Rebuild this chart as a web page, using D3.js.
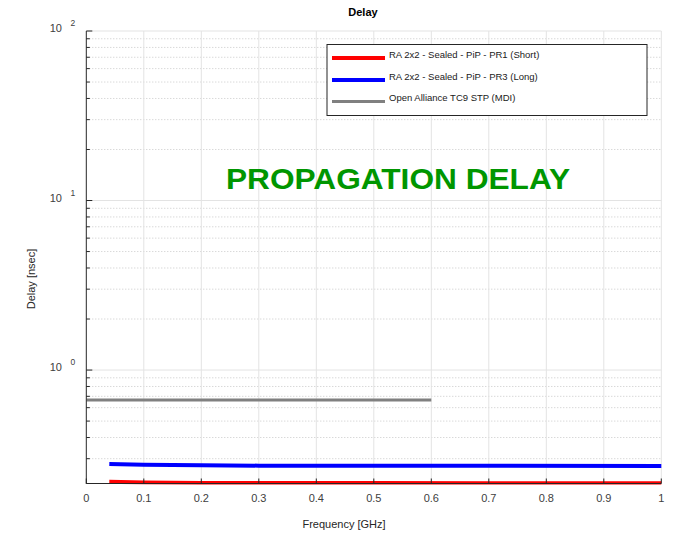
<!DOCTYPE html>
<html><head><meta charset="utf-8">
<script src="https://cdn.jsdelivr.net/npm/d3@7"></script>
<style>
html,body{margin:0;padding:0;background:#fff;}
svg{display:block;font-family:"Liberation Sans",Arial,Helvetica,sans-serif;}
</style></head>
<body>
<svg id="chart" width="674" height="533"></svg>
<script>
// ---- data ----
const seriesNames = ["RA 2x2 - Sealed - PiP - PR1 (Short)", "RA 2x2 - Sealed - PiP - PR3 (Long)", "Open Alliance TC9 STP (MDI)"];
const seriesColors = ["#ff0000", "#0000ff", "#808080"];
const freqConn = [0.04, 0.1, 0.2, 0.3, 0.5, 0.7, 1.0];
const delayShort = [0.219, 0.217, 0.216, 0.2155, 0.2155, 0.215, 0.215];
const delayLong = [0.279, 0.276, 0.274, 0.273, 0.273, 0.2725, 0.272];
const freqTC9 = [0, 0.6];
const delayTC9 = [0.665, 0.665];
const xTicks = [0, 0.1, 0.2, 0.3, 0.4, 0.5, 0.6, 0.7, 0.8, 0.9, 1];
const yMajor = [1, 10, 100];
const yExp = ["0", "1", "2"];
const yMinor = [0.3,0.4,0.5,0.6,0.7,0.8,0.9,2,3,4,5,6,7,8,9,20,30,40,50,60,70,80,90];
const titleText = "Delay";
const xLabel = "Frequency [GHz]";
const yLabel = "Delay [nsec]";
const annotation = "PROPAGATION DELAY";

// ---- layout ----
const L = 86.3, R = 661.3, T = 31, B = 483.5;
const svg = d3.select("#chart");
const x = d3.scaleLinear().domain([0, 1]).range([L, R]);
const y = d3.scaleLog().domain([0.2142, 100]).range([B, T]);

const g = svg.append("g");
// minor grid (dotted)
g.selectAll(".mg").data(yMinor).join("line")
  .attr("x1", L).attr("x2", R).attr("y1", d => y(d)).attr("y2", d => y(d))
  .attr("stroke", "#c8c8c8").attr("stroke-width", 1).attr("stroke-dasharray", "1,2");
// major grid
g.selectAll(".gx").data(xTicks.slice(1)).join("line")
  .attr("x1", d => x(d)).attr("x2", d => x(d)).attr("y1", T).attr("y2", B)
  .attr("stroke", "#e3e3e3").attr("stroke-width", 1);
g.selectAll(".gy").data(yMajor).join("line")
  .attr("x1", L).attr("x2", R).attr("y1", d => y(d)).attr("y2", d => y(d))
  .attr("stroke", "#e3e3e3").attr("stroke-width", 1);

// clip
svg.append("clipPath").attr("id", "clip").append("rect")
  .attr("x", L).attr("y", T).attr("width", R - L + 1).attr("height", B - T + 1);

const line = d3.line().x(d => x(d[0])).y(d => y(d[1]));
const lines = [
  {f: freqConn, v: delayShort, c: seriesColors[0], w: 4},
  {f: freqConn, v: delayLong, c: seriesColors[1], w: 4},
  {f: freqTC9, v: delayTC9, c: seriesColors[2], w: 3}
];
const pl = svg.append("g").attr("clip-path", "url(#clip)");
lines.forEach(s => {
  pl.append("path").datum(s.f.map((f, i) => [f, s.v[i]]))
    .attr("d", line).attr("fill", "none").attr("stroke", s.c).attr("stroke-width", s.w);
});

// axes
const ax = svg.append("g").attr("stroke", "#262626").attr("stroke-width", 1);
ax.append("line").attr("x1", L).attr("x2", L).attr("y1", T).attr("y2", B + 0.5);
ax.append("line").attr("x1", L).attr("x2", R).attr("y1", B).attr("y2", B);
ax.selectAll(".xt").data(xTicks).join("line")
  .attr("x1", d => x(d)).attr("x2", d => x(d)).attr("y1", B).attr("y2", B - 5);
ax.selectAll(".ymaj").data(yMajor).join("line")
  .attr("x1", L).attr("x2", L + 6).attr("y1", d => y(d)).attr("y2", d => y(d));
ax.selectAll(".ymin").data(yMinor).join("line")
  .attr("x1", L).attr("x2", L + 3.5).attr("y1", d => y(d)).attr("y2", d => y(d));

// tick labels
svg.selectAll(".xl").data(xTicks).join("text")
  .attr("x", d => x(d)).attr("y", 502).attr("text-anchor", "middle")
  .attr("font-size", 11).attr("fill", "#404040").text(d => d3.format("")(d));
yMajor.forEach((v, i) => {
  svg.append("text").attr("x", 62).attr("y", y(v) + 1).attr("text-anchor", "end")
    .attr("font-size", 11).attr("fill", "#404040").text("10");
  svg.append("text").attr("x", 70.5).attr("y", y(v) - 5).attr("text-anchor", "start")
    .attr("font-size", 8.5).attr("fill", "#404040").text(yExp[i]);
});

// labels
svg.append("text").attr("x", 363).attr("y", 16).attr("text-anchor", "middle")
  .attr("font-size", 11).attr("font-weight", "bold").attr("fill", "#000").text(titleText);
svg.append("text").attr("x", 344).attr("y", 528).attr("text-anchor", "middle")
  .attr("font-size", 11).attr("fill", "#262626").text(xLabel);
svg.append("text").attr("transform", "translate(35,279) rotate(-90)").attr("text-anchor", "middle")
  .attr("font-size", 11).attr("fill", "#262626").text(yLabel);

// annotation
svg.append("text").attr("x", 398).attr("y", 188.5).attr("text-anchor", "middle")
  .attr("font-size", 30).attr("font-weight", "bold").attr("fill", "#009600")
  .attr("textLength", 344).attr("lengthAdjust", "spacingAndGlyphs").text(annotation);

// legend
const lg = svg.append("g");
lg.append("rect").attr("x", 327).attr("y", 44.5).attr("width", 320).attr("height", 71)
  .attr("fill", "#fff").attr("stroke", "#262626").attr("stroke-width", 1);
const ly = [58, 80, 101.5];
seriesNames.forEach((n, i) => {
  lg.append("line").attr("x1", 332).attr("x2", 385).attr("y1", ly[i]).attr("y2", ly[i])
    .attr("stroke", seriesColors[i]).attr("stroke-width", i < 2 ? 4 : 3);
  lg.append("text").attr("x", 389).attr("y", ly[i] - 0.5).attr("font-size", 9.5)
    .attr("fill", "#1a1a1a").text(n);
});
</script>
</body></html>
